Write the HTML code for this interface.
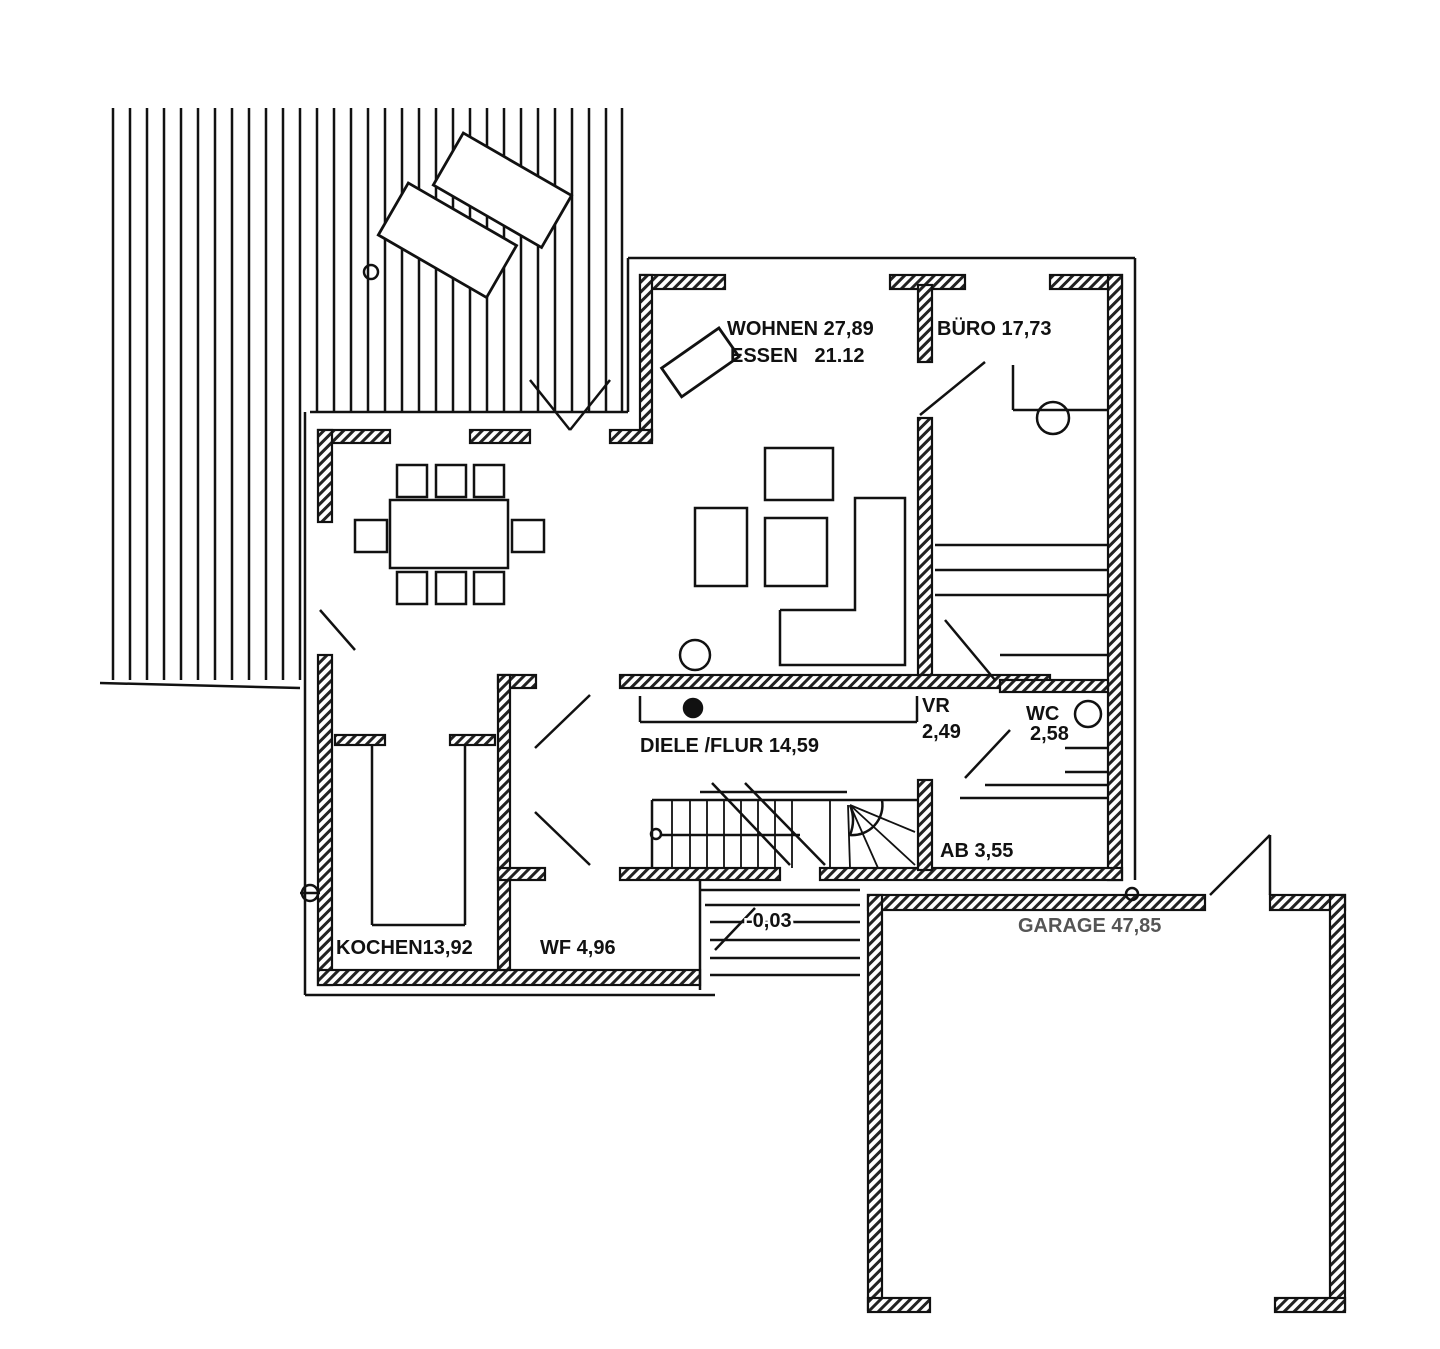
<!DOCTYPE html>
<html><head><meta charset="utf-8"><style>
html,body{margin:0;padding:0;background:#fff}
svg{display:block}
text{font-family:"Liberation Sans",sans-serif;font-size:20px;font-weight:bold;fill:#111;letter-spacing:0px}
</style></head><body>
<svg width="1440" height="1349" viewBox="0 0 1440 1349" xmlns="http://www.w3.org/2000/svg">
<defs>
<pattern id="h" width="7" height="7" patternUnits="userSpaceOnUse" patternTransform="rotate(45)">
<rect width="7" height="7" fill="#fff"/><rect width="3" height="7" fill="#222"/>
</pattern>
</defs>
<rect width="1440" height="1349" fill="#fff"/>
<g stroke="#111" stroke-width="2.5">
<line x1="113" y1="108" x2="113" y2="680"/><line x1="130" y1="108" x2="130" y2="680"/><line x1="147" y1="108" x2="147" y2="680"/><line x1="164" y1="108" x2="164" y2="680"/><line x1="181" y1="108" x2="181" y2="680"/><line x1="198" y1="108" x2="198" y2="680"/><line x1="215" y1="108" x2="215" y2="680"/><line x1="232" y1="108" x2="232" y2="680"/><line x1="249" y1="108" x2="249" y2="680"/><line x1="266" y1="108" x2="266" y2="680"/><line x1="283" y1="108" x2="283" y2="680"/><line x1="300" y1="108" x2="300" y2="680"/>
<line x1="317" y1="108" x2="317" y2="412"/><line x1="334" y1="108" x2="334" y2="412"/><line x1="351" y1="108" x2="351" y2="412"/><line x1="368" y1="108" x2="368" y2="412"/><line x1="385" y1="108" x2="385" y2="412"/><line x1="402" y1="108" x2="402" y2="412"/><line x1="419" y1="108" x2="419" y2="412"/><line x1="436" y1="108" x2="436" y2="412"/><line x1="453" y1="108" x2="453" y2="412"/><line x1="470" y1="108" x2="470" y2="412"/><line x1="487" y1="108" x2="487" y2="412"/><line x1="504" y1="108" x2="504" y2="412"/><line x1="521" y1="108" x2="521" y2="412"/><line x1="538" y1="108" x2="538" y2="412"/><line x1="555" y1="108" x2="555" y2="412"/><line x1="572" y1="108" x2="572" y2="412"/><line x1="589" y1="108" x2="589" y2="412"/><line x1="606" y1="108" x2="606" y2="412"/><line x1="622" y1="108" x2="622" y2="412"/>
<line x1="100" y1="683" x2="300" y2="688"/>
<line x1="310" y1="412" x2="628" y2="412"/>
<line x1="628" y1="258" x2="1135" y2="258"/>
<line x1="628" y1="258" x2="628" y2="412"/>
<line x1="1135" y1="258" x2="1135" y2="880"/>
<line x1="305" y1="412" x2="305" y2="995"/>
<line x1="305" y1="995" x2="715" y2="995"/>
</g>
<g fill="#fff" stroke="#111" stroke-width="2.8">
<rect x="440" y="160" width="125" height="60" transform="rotate(30 502 190)"/>
<rect x="385" y="210" width="125" height="60" transform="rotate(30 447 240)"/>
<rect x="665" y="345" width="70" height="35" transform="rotate(-35 700 362)"/>
</g>
<g fill="url(#h)" stroke="#111" stroke-width="2.2">
<rect x="640" y="275" width="85" height="14"/><rect x="890" y="275" width="75" height="14"/><rect x="1050" y="275" width="72" height="14"/>
<rect x="640" y="275" width="12" height="165"/>
<rect x="1108" y="275" width="14" height="605"/>
<rect x="918" y="285" width="14" height="77"/><rect x="918" y="418" width="14" height="262"/>
<rect x="318" y="430" width="72" height="13"/><rect x="470" y="430" width="60" height="13"/><rect x="610" y="430" width="42" height="13"/>
<rect x="318" y="430" width="14" height="92"/><rect x="318" y="655" width="14" height="330"/>
<rect x="318" y="970" width="382" height="15"/>
<rect x="620" y="675" width="430" height="13"/><rect x="498" y="675" width="38" height="13"/>
<rect x="498" y="675" width="12" height="295"/>
<rect x="1000" y="680" width="108" height="12"/>
<rect x="498" y="868" width="47" height="12"/><rect x="620" y="868" width="160" height="12"/><rect x="820" y="868" width="302" height="12"/>
<rect x="918" y="780" width="14" height="90"/>
<rect x="335" y="735" width="50" height="10"/><rect x="450" y="735" width="45" height="10"/>
<rect x="868" y="895" width="337" height="15"/><rect x="1270" y="895" width="75" height="15"/>
<rect x="868" y="895" width="14" height="415"/><rect x="1330" y="895" width="15" height="415"/>
<rect x="868" y="1298" width="62" height="14"/><rect x="1275" y="1298" width="70" height="14"/>
</g>
<g fill="none" stroke="#111" stroke-width="2.5">
<rect x="390" y="500" width="118" height="68"/>
<rect x="397" y="465" width="30" height="32"/><rect x="436" y="465" width="30" height="32"/><rect x="474" y="465" width="30" height="32"/>
<rect x="397" y="572" width="30" height="32"/><rect x="436" y="572" width="30" height="32"/><rect x="474" y="572" width="30" height="32"/>
<rect x="355" y="520" width="32" height="32"/><rect x="512" y="520" width="32" height="32"/>
<rect x="765" y="448" width="68" height="52"/><rect x="765" y="518" width="62" height="68"/><rect x="695" y="508" width="52" height="78"/>
<polyline points="780,610 780,665 905,665 905,498 855,498 855,610 780,610"/>
<circle cx="695" cy="655" r="15"/><circle cx="1053" cy="418" r="16"/><circle cx="1088" cy="714" r="13"/>
<circle cx="693" cy="708" r="9" fill="#111"/>
<line x1="640" y1="696" x2="640" y2="722"/><line x1="640" y1="722" x2="917" y2="722"/><line x1="917" y1="696" x2="917" y2="722"/>
<line x1="1013" y1="410" x2="1108" y2="410"/><line x1="1013" y1="365" x2="1013" y2="410"/>
<line x1="935" y1="545" x2="1108" y2="545"/><line x1="935" y1="570" x2="1108" y2="570"/><line x1="935" y1="595" x2="1108" y2="595"/>
<line x1="1000" y1="655" x2="1108" y2="655"/><line x1="1065" y1="748" x2="1108" y2="748"/><line x1="1065" y1="772" x2="1108" y2="772"/>
<line x1="960" y1="798" x2="1108" y2="798"/><line x1="985" y1="785" x2="1108" y2="785"/>
<line x1="372" y1="745" x2="372" y2="925"/><line x1="465" y1="745" x2="465" y2="925"/><line x1="372" y1="925" x2="465" y2="925"/>
<line x1="920" y1="415" x2="985" y2="362"/><line x1="535" y1="748" x2="590" y2="695"/><line x1="535" y1="812" x2="590" y2="865"/>
<line x1="945" y1="620" x2="995" y2="680"/><line x1="965" y1="778" x2="1010" y2="730"/><line x1="320" y1="610" x2="355" y2="650"/>
<line x1="530" y1="380" x2="570" y2="430"/><line x1="570" y1="430" x2="610" y2="380"/>
<line x1="1210" y1="895" x2="1270" y2="835"/><line x1="1270" y1="835" x2="1270" y2="895"/>
<line x1="652" y1="800" x2="918" y2="800"/><line x1="652" y1="800" x2="652" y2="868"/>
<line x1="700" y1="792" x2="847" y2="792"/>
<g stroke-width="1.8"><line x1="672" y1="800" x2="672" y2="868"/><line x1="690" y1="800" x2="690" y2="868"/><line x1="707" y1="800" x2="707" y2="868"/><line x1="724" y1="800" x2="724" y2="868"/><line x1="741" y1="800" x2="741" y2="868"/><line x1="758" y1="800" x2="758" y2="868"/><line x1="775" y1="800" x2="775" y2="868"/><line x1="792" y1="800" x2="792" y2="868"/><line x1="830" y1="800" x2="830" y2="868"/><line x1="848" y1="805" x2="850" y2="868"/><line x1="850" y1="805" x2="878" y2="868"/><line x1="850" y1="805" x2="915" y2="865"/><line x1="850" y1="805" x2="915" y2="832"/></g>
<line x1="660" y1="835" x2="800" y2="835"/><line x1="712" y1="783" x2="790" y2="865"/><line x1="745" y1="783" x2="825" y2="865"/>
<path d="M850 805 A40 40 0 0 1 850 835 A30 30 0 0 0 882 800"/>
<circle cx="656" cy="834" r="5"/>
<line x1="700" y1="890" x2="860" y2="890"/><line x1="705" y1="905" x2="860" y2="905"/><line x1="710" y1="922" x2="860" y2="922"/><line x1="710" y1="940" x2="860" y2="940"/><line x1="710" y1="958" x2="860" y2="958"/><line x1="710" y1="975" x2="860" y2="975"/>
<line x1="700" y1="880" x2="700" y2="990"/><line x1="715" y1="950" x2="755" y2="908"/>
<circle cx="1132" cy="894" r="6"/><circle cx="310" cy="893" r="8"/><circle cx="371" cy="272" r="7"/>
<line x1="300" y1="893" x2="320" y2="893"/>
</g>
<text x="727" y="335">WOHNEN 27,89</text>
<text x="730" y="362">ESSEN&#160;&#160;&#160;21.12</text>
<text x="937" y="335">BÜRO 17,73</text>
<text x="640" y="752">DIELE /FLUR 14,59</text>
<text x="922" y="712">VR</text><text x="922" y="738">2,49</text>
<text x="1026" y="720">WC</text><text x="1030" y="740">2,58</text>
<text x="940" y="857">AB 3,55</text>
<text x="746" y="927" style="stroke:#fff;stroke-width:5px;paint-order:stroke">-0,03</text>
<text x="1018" y="932" style="fill:#555">GARAGE 47,85</text>
<text x="336" y="954">KOCHEN13,92</text>
<text x="540" y="954">WF 4,96</text>
</svg>
</body></html>
